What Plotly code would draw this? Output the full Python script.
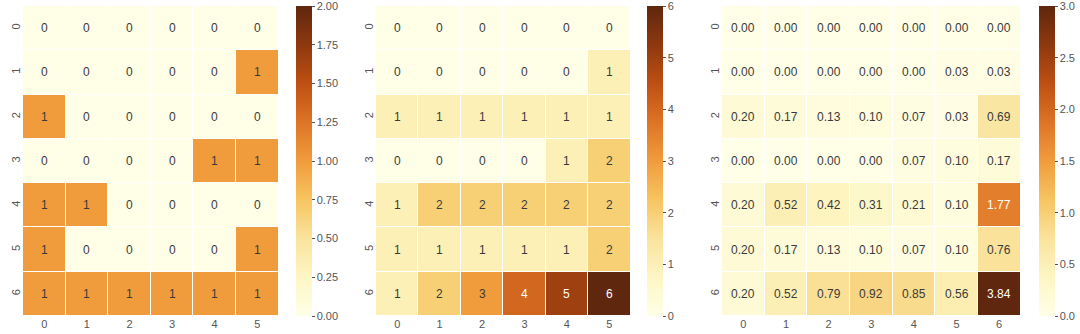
import plotly.graph_objects as go
from plotly.colors import sample_colorscale, unlabel_rgb, hex_to_rgb

# Row / column labels
rows = [0, 1, 2, 3, 4, 5, 6]
cols_a = [0, 1, 2, 3, 4, 5]
cols_b = [0, 1, 2, 3, 4, 5]
cols_c = [0, 1, 2, 3, 4, 5, 6]

# Left panel: 0/1 indicator matrix
grid_a = [
    [0, 0, 0, 0, 0, 0],
    [0, 0, 0, 0, 0, 1],
    [1, 0, 0, 0, 0, 0],
    [0, 0, 0, 0, 1, 1],
    [1, 1, 0, 0, 0, 0],
    [1, 0, 0, 0, 0, 1],
    [1, 1, 1, 1, 1, 1],
]

# Middle panel: counts
grid_b = [
    [0, 0, 0, 0, 0, 0],
    [0, 0, 0, 0, 0, 1],
    [1, 1, 1, 1, 1, 1],
    [0, 0, 0, 0, 1, 2],
    [1, 2, 2, 2, 2, 2],
    [1, 1, 1, 1, 1, 2],
    [1, 2, 3, 4, 5, 6],
]

# Right panel: weighted values
grid_c = [
    [0.00, 0.00, 0.00, 0.00, 0.00, 0.00, 0.00],
    [0.00, 0.00, 0.00, 0.00, 0.00, 0.03, 0.03],
    [0.20, 0.17, 0.13, 0.10, 0.07, 0.03, 0.69],
    [0.00, 0.00, 0.00, 0.00, 0.07, 0.10, 0.17],
    [0.20, 0.52, 0.42, 0.31, 0.21, 0.10, 1.77],
    [0.20, 0.17, 0.13, 0.10, 0.07, 0.10, 0.76],
    [0.20, 0.52, 0.79, 0.92, 0.85, 0.56, 3.84],
]

# Colorbar tick values per panel
ticks_a = [0.0, 0.25, 0.5, 0.75, 1.0, 1.25, 1.5, 1.75, 2.0]
ticks_b = [0, 1, 2, 3, 4, 5, 6]
ticks_c = [0.0, 0.5, 1.0, 1.5, 2.0, 2.5, 3.0]

W, H = 1080, 334
FONT = "Liberation Sans, Arial, sans-serif"
TICK_COLOR = "#555555"
DARK_TEXT = "#3a3a3a"

# YlOrBr (ColorBrewer, 9 classes), slightly muted toward grey
YLORBR = ["#ffffe5", "#fff7bc", "#fee391", "#fec44f", "#fe9929",
          "#ec7014", "#cc4c02", "#993404", "#662506"]


def mute(hex_color, k=0.15):
    r, g, b = hex_to_rgb(hex_color)
    grey = 0.299 * r + 0.587 * g + 0.114 * b
    r, g, b = (round(c * (1 - k) + grey * k) for c in (r, g, b))
    return f"rgb({r},{g},{b})"


SCALE = [[i / (len(YLORBR) - 1), mute(c)] for i, c in enumerate(YLORBR)]

panels = [
    dict(z=grid_a, cols=cols_a, zmax=2, ticks=ticks_a, labels=[f"{t:.2f}" for t in ticks_a],
         cellfmt="{:d}", x0=23, x1=278.5, cb=296),
    dict(z=grid_b, cols=cols_b, zmax=6, ticks=ticks_b, labels=[str(t) for t in ticks_b],
         cellfmt="{:d}", x0=376, x1=630.5, cb=647),
    dict(z=grid_c, cols=cols_c, zmax=3, ticks=ticks_c, labels=[f"{t:.1f}" for t in ticks_c],
         cellfmt="{:.2f}", x0=722, x1=1020.5, cb=1039),
]


def luminance(rgb):
    vals = []
    for c in rgb:
        c = c / 255.0
        vals.append(c / 12.92 if c <= 0.03928 else ((c + 0.055) / 1.055) ** 2.4)
    return 0.2126 * vals[0] + 0.7152 * vals[1] + 0.0722 * vals[2]


fig = go.Figure()
annotations = []

for i, p in enumerate(panels, start=1):
    xa = "x" if i == 1 else f"x{i}"
    ya = "y" if i == 1 else f"y{i}"
    fig.add_trace(go.Heatmap(
        z=p["z"], x=p["cols"], y=rows,
        colorscale=SCALE, zmin=0, zmax=p["zmax"],
        xgap=1, ygap=1, hoverongaps=False,
        xaxis=xa, yaxis=ya,
        colorbar=dict(
            x=p["cb"] / W, xanchor="left", xpad=0, xref="paper",
            y=0.5, yanchor="middle", len=1.0, lenmode="fraction", ypad=0,
            thickness=16, thicknessmode="pixels", outlinewidth=0,
            tickmode="array", tickvals=p["ticks"], ticktext=p["labels"],
            ticklabeloverflow="allow",
            ticks="outside", ticklen=3, tickwidth=1, tickcolor=TICK_COLOR,
            tickfont=dict(family=FONT, size=11, color=TICK_COLOR),
        ),
    ))

    # cell value labels, light text on dark cells
    for r, row in enumerate(p["z"]):
        for c, v in enumerate(row):
            frac = min(max(v / p["zmax"], 0), 1)
            rgb = unlabel_rgb(sample_colorscale(SCALE, [frac])[0])
            color = "white" if luminance(rgb) < 0.408 else DARK_TEXT
            annotations.append(dict(
                x=p["cols"][c], y=rows[r], xref=xa, yref=ya,
                text=p["cellfmt"].format(v), showarrow=False,
                font=dict(family=FONT, size=12, color=color),
            ))

    axis_x = dict(domain=[p["x0"] / W, p["x1"] / W], anchor=ya,
                  tickmode="array", tickvals=p["cols"],
                  ticktext=[str(v) for v in p["cols"]],
                  showgrid=False, zeroline=False, showline=False, ticks="",
                  tickfont=dict(family=FONT, size=11, color=TICK_COLOR))
    axis_y = dict(domain=[0, 1], anchor=xa, autorange="reversed",
                  tickmode="array", tickvals=rows,
                  ticktext=[str(v) for v in rows], tickangle=-90,
                  showgrid=False, zeroline=False, showline=False, ticks="",
                  tickfont=dict(family=FONT, size=11, color=TICK_COLOR))
    fig.layout[f"xaxis{'' if i == 1 else i}"] = axis_x
    fig.layout[f"yaxis{'' if i == 1 else i}"] = axis_y

fig.update_layout(
    width=W, height=H,
    margin=dict(l=0, r=0, t=6, b=18, pad=0),
    paper_bgcolor="white", plot_bgcolor="white",
    annotations=annotations,
    showlegend=False,
    font=dict(family=FONT),
)

fig.write_html("out.html")
